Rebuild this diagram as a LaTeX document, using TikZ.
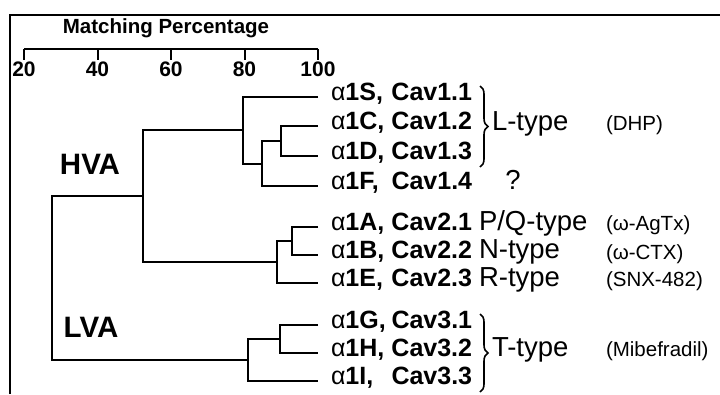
\documentclass[tikz,border=0pt]{standalone}
\usepackage{fontspec}
\setmainfont{Liberation Sans}
\usetikzlibrary{calc}
\usetikzlibrary{decorations.pathreplacing}

\newcommand{\chan}[2]{\makebox[2.42em][l]{{\mdseries α}1#1,}Cav#2}

\begin{document}
\begin{tikzpicture}[x=1pt, y=-1pt, line width=2pt,
    every node/.style={inner sep=0pt, text height=0.72em, text depth=0pt},
    chan/.style={anchor=west, font=\bfseries\fontsize{25}{25}\selectfont},
    ctype/.style={anchor=west, font=\fontsize{27.5}{27.5}\selectfont},
    drug/.style={anchor=west, font=\fontsize{20.5}{20.5}\selectfont},
    group/.style={font=\bfseries\fontsize{29.5}{29.5}\selectfont},
    tbrace/.style={decorate, decoration={brace, amplitude=8pt}, line width=1.6pt}]
    \useasboundingbox (0,0) rectangle (720,394);

    % 1. 外框
    \draw (10,394) -- (10,15) -- (720,15);

    % 2. 刻度尺
    \node[font=\bfseries\fontsize{20.5}{20.5}\selectfont] (title) at (166,30) {Matching Percentage};
    \coordinate (A0) at (24,49);
    \coordinate (A1) at (318,49);
    \draw (A0) -- (A1);
    \foreach \p in {20,40,...,100} {
        \pgfmathsetmacro{\f}{(\p-20)/80}
        \coordinate (T\p) at ($(A0)!\f!(A1)$);
        \draw (T\p) -- ++(0,11);
        \node[font=\bfseries\fontsize{21}{21}\selectfont] (L\p) at ($(T\p)+(0,24)$) {\p};
    }

    % 3. 叶子 (100%)
    \coordinate (S) at (318,97);
    \coordinate (C) at (318,126);
    \coordinate (D) at (318,156);
    \coordinate (F) at (318,186);
    \coordinate (A) at (318,227);
    \coordinate (B) at (318,255);
    \coordinate (E) at (318,283);
    \coordinate (G) at (318,325);
    \coordinate (H) at (318,353);
    \coordinate (I) at (318,381);

    % 4. 内部结点
    \coordinate (nCD) at (281,141);
    \coordinate (nCDF) at (262,163.5);
    \coordinate (nL) at (243,130);
    \coordinate (nAB) at (292,241);
    \coordinate (nABE) at (277,262);
    \coordinate (nHVA) at (143,196);
    \coordinate (nGH) at (280,339);
    \coordinate (nLVA) at (248,360);
    \coordinate (root) at (52,278);

    % 5. 树枝
    \draw (C) -| (nCD) |- (D);
    \draw (nCD) -| (nCDF) |- (F);
    \draw (S) -| (nL) |- (nCDF);
    \draw (A) -| (nAB) |- (B);
    \draw (nAB) -| (nABE) |- (E);
    \draw (nL) -| (nHVA) |- (nABE);
    \draw (G) -| (nGH) |- (H);
    \draw (nGH) -| (nLVA) |- (I);
    \draw (nHVA) -| (root) |- (nLVA);

    % 6. 通道名称
    \node[chan] (tS) at (330,97) {\chan{S}{1.1}};
    \node[chan] (tC) at (330,126) {\chan{C}{1.2}};
    \node[chan] (tD) at (330,156) {\chan{D}{1.3}};
    \node[chan] (tF) at (330,186) {\chan{F}{1.4}};
    \node[chan] (tA) at (330,227) {\chan{A}{2.1}};
    \node[chan] (tB) at (330,255) {\chan{B}{2.2}};
    \node[chan] (tE) at (330,283) {\chan{E}{2.3}};
    \node[chan] (tG) at (330,325) {\chan{G}{3.1}};
    \node[chan] (tH) at (330,353) {\chan{H}{3.2}};
    \node[chan] (tI) at (330,381) {\chan{I}{3.3}};

    \node[group] (hva) at (90,171) {HVA};
    \node[group] (lva) at (91,334) {LVA};

    % 7. 括号及类型
    \draw[tbrace] (480,86) -- (480,167);
    \draw[tbrace] (480,314) -- (480,392);
    \node[ctype] (tyL) at (491,126.5) {L-type};
    \node[ctype, anchor=center] (q) at (513,186) {?};
    \node[ctype] (tyPQ) at (478,227) {P/Q-type};
    \node[ctype] (tyN) at (478,255) {N-type};
    \node[ctype] (tyR) at (478,283) {R-type};
    \node[ctype] (tyT) at (491,353) {T-type};

    % 8. 阻断剂
    \node[drug] (dDHP) at (605,126.5) {(DHP)};
    \node[drug] (dAga) at (605,227) {(ω-AgTx)};
    \node[drug] (dCTX) at (605,256) {(ω-CTX)};
    \node[drug] (dSNX) at (605,283) {(SNX-482)};
    \node[drug] (dMib) at (605,353) {(Mibefradil)};

\end{tikzpicture}
\end{document}
